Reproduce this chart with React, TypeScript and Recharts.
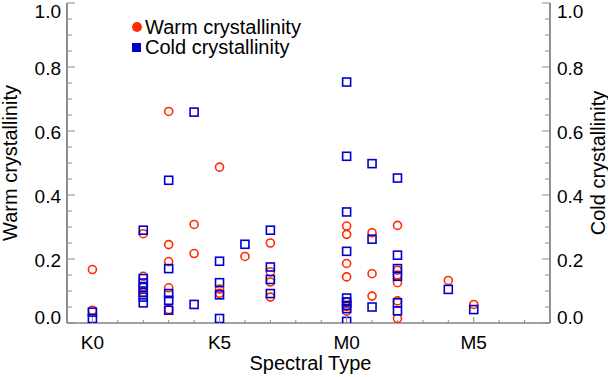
import React from "react";
import { ScatterChart, Scatter, XAxis, YAxis } from "recharts";

// spectral type index: K0 = 0, K5 = 5, M0 = 10, M5 = 15
const warmSpT = [
  0, 0,
  2, 2, 2, 2,
  3, 3, 3, 3, 3,
  4, 4,
  5, 5, 5,
  6,
  7, 7, 7, 7,
  10, 10, 10, 10, 10, 10, 10,
  11, 11, 11,
  12, 12, 12, 12, 12, 12,
  14,
  15,
];
const warmCryst = [
  0.167, 0.04,
  0.279, 0.146, 0.113, 0.097,
  0.661, 0.245, 0.192, 0.11, 0.042,
  0.308, 0.217,
  0.487, 0.106, 0.093,
  0.208,
  0.25, 0.16, 0.128, 0.081,
  0.303, 0.277, 0.186, 0.144, 0.065, 0.052, 0.037,
  0.282, 0.154, 0.084,
  0.305, 0.165, 0.15, 0.126, 0.069, 0.014,
  0.133,
  0.058,
];

const coldSpT = [
  0, 0,
  2, 2, 2, 2, 2, 2, 2,
  3, 3, 3, 3, 3,
  4, 4,
  5, 5, 5, 5,
  6,
  7, 7, 7, 7,
  10, 10, 10, 10, 10, 10, 10, 10, 10,
  11, 11, 11,
  12, 12, 12, 12, 12, 12,
  14,
  15,
];
const coldCryst = [
  0.034, 0.014,
  0.29, 0.139, 0.125, 0.111, 0.095, 0.081, 0.063,
  0.446, 0.17, 0.092, 0.071, 0.04,
  0.659, 0.058,
  0.193, 0.126, 0.088, 0.014,
  0.246,
  0.29, 0.175, 0.136, 0.092,
  0.753, 0.521, 0.347, 0.224, 0.078, 0.066, 0.055, 0.045, 0.005,
  0.498, 0.262, 0.05,
  0.453, 0.212, 0.17, 0.146, 0.063, 0.038,
  0.105,
  0.042,
];

const xTicks = [-1, 0, 1, 2, 3, 4, 5, 6, 7, 8, 9, 10, 11, 12, 13, 14, 15, 16, 17, 18];
const xTickLabels: Record<number, string> = { 0: "K0", 5: "K5", 10: "M0", 15: "M5" };
const yTicks = [
  0, 0.05, 0.1, 0.15, 0.2, 0.25, 0.3, 0.35, 0.4, 0.45, 0.5,
  0.55, 0.6, 0.65, 0.7, 0.75, 0.8, 0.85, 0.9, 0.95, 1,
];

const warmData = warmSpT.map((spt, i) => ({ spt, value: warmCryst[i] }));
const coldData = coldSpT.map((spt, i) => ({ spt, value: coldCryst[i] }));

const RED = "#ff2a00";
const BLUE = "#0000cc";
const FONT = "'Liberation Sans', Arial, Helvetica, sans-serif";
const AXIS = "#444";
const TICK = "#8a8a8a";

const isMajorY = (v: number) => Math.abs(v * 5 - Math.round(v * 5)) < 1e-6;

const OpenCircle = (props: any) => (
  <circle cx={props.cx} cy={props.cy} r={4} fill="none" stroke={RED} strokeWidth={1.6} />
);

const OpenSquare = (props: any) => (
  <rect
    x={props.cx - 4}
    y={props.cy - 4}
    width={8}
    height={8}
    fill="none"
    stroke={BLUE}
    strokeWidth={1.6}
  />
);

const BottomTick = (props: any) => {
  const { x, y, payload } = props;
  const label = xTickLabels[payload.value];
  return (
    <g>
      <line x1={x} y1={y} x2={x} y2={y - (label ? 6 : 3)} stroke={TICK} strokeWidth={1} />
      {label && (
        <text x={x} y={y + 26} textAnchor="middle" fontSize={19} fontFamily={FONT} fill="#000">
          {label}
        </text>
      )}
    </g>
  );
};

const TopTick = (props: any) => {
  const { x, y, payload } = props;
  const major = xTickLabels[payload.value] !== undefined;
  return <line x1={x} y1={y} x2={x} y2={y + (major ? 6 : 3)} stroke={TICK} strokeWidth={1} />;
};

const yLabelShift = (v: number) => (v === 1 ? 8.5 : v === 0 ? -6 : 1);

const LeftTick = (props: any) => {
  const { x, y, payload } = props;
  const major = isMajorY(payload.value);
  return (
    <g>
      <line x1={x} y1={y} x2={x + (major ? 8 : 5)} y2={y} stroke={TICK} strokeWidth={1} />
      {major && (
        <text
          x={x - 6}
          y={y + yLabelShift(payload.value)}
          textAnchor="end"
          dominantBaseline="central"
          fontSize={19}
          fontFamily={FONT}
          fill="#000"
        >
          {payload.value.toFixed(1)}
        </text>
      )}
    </g>
  );
};

const RightTick = (props: any) => {
  const { x, y, payload } = props;
  const major = isMajorY(payload.value);
  return (
    <g>
      <line x1={x} y1={y} x2={x - (major ? 8 : 5)} y2={y} stroke={TICK} strokeWidth={1} />
      {major && (
        <text
          x={x + 7}
          y={y + yLabelShift(payload.value)}
          textAnchor="start"
          dominantBaseline="central"
          fontSize={19}
          fontFamily={FONT}
          fill="#000"
        >
          {payload.value.toFixed(1)}
        </text>
      )}
    </g>
  );
};

const XTitle = (props: any) => {
  const vb = props.viewBox;
  return (
    <text x={vb.x + vb.width / 2 + 2} y={370} textAnchor="middle" fontSize={20} fontFamily={FONT} fill="#000">
      Spectral Type
    </text>
  );
};

const LeftTitle = (props: any) => {
  const vb = props.viewBox;
  const cy = vb.y + vb.height / 2;
  return (
    <text
      transform={`translate(16.5, ${cy}) rotate(-90)`}
      textAnchor="middle"
      fontSize={20}
      fontFamily={FONT}
      fill="#000"
    >
      Warm crystallinity
    </text>
  );
};

const RightTitle = (props: any) => {
  const vb = props.viewBox;
  const cy = vb.y + vb.height / 2;
  return (
    <text
      transform={`translate(605, ${cy}) rotate(-90)`}
      textAnchor="middle"
      fontSize={20}
      fontFamily={FONT}
      fill="#000"
    >
      Cold crystallinity
    </text>
  );
};

export default function App() {
  return (
    <div style={{ position: "absolute", left: 0, top: 0, width: 608, height: 377, background: "#fff" }}>
      <ScatterChart width={608} height={377} margin={{ top: 3, right: 8, bottom: 14, left: 7 }}>
        <XAxis
          xAxisId="bottom"
          dataKey="spt"
          type="number"
          domain={[-1, 18]}
          ticks={xTicks}
          interval={0}
          height={40}
          tickSize={0}
          tickMargin={0}
          tickLine={false}
          axisLine={{ stroke: AXIS, strokeWidth: 1.2 }}
          tick={<BottomTick />}
          label={<XTitle />}
          allowDataOverflow
        />
        <XAxis
          xAxisId="top"
          orientation="top"
          type="number"
          domain={[-1, 18]}
          ticks={xTicks}
          interval={0}
          height={0}
          tickSize={0}
          tickMargin={0}
          tickLine={false}
          axisLine={{ stroke: AXIS, strokeWidth: 1.2 }}
          tick={<TopTick />}
          allowDataOverflow
        />
        <YAxis
          yAxisId="left"
          dataKey="value"
          type="number"
          domain={[0, 1]}
          ticks={yTicks}
          interval={0}
          width={60}
          tickSize={0}
          tickMargin={0}
          tickLine={false}
          axisLine={{ stroke: AXIS, strokeWidth: 1.2 }}
          tick={<LeftTick />}
          label={<LeftTitle />}
          allowDataOverflow
        />
        <YAxis
          yAxisId="right"
          orientation="right"
          type="number"
          domain={[0, 1]}
          ticks={yTicks}
          interval={0}
          width={50}
          tickSize={0}
          tickMargin={0}
          tickLine={false}
          axisLine={{ stroke: AXIS, strokeWidth: 1.2 }}
          tick={<RightTick />}
          label={<RightTitle />}
          allowDataOverflow
        />
        <Scatter
          name="Warm crystallinity"
          data={warmData}
          xAxisId="bottom"
          yAxisId="left"
          shape={<OpenCircle />}
          isAnimationActive={false}
        />
        <Scatter
          name="Cold crystallinity"
          data={coldData}
          xAxisId="bottom"
          yAxisId="left"
          shape={<OpenSquare />}
          isAnimationActive={false}
        />
      </ScatterChart>
      <div
        style={{
          position: "absolute",
          left: 132,
          top: 17,
          fontFamily: FONT,
          fontSize: 20,
          lineHeight: "20px",
          color: "#000",
        }}
      >
        <div style={{ display: "flex", alignItems: "center", height: 20 }}>
          <span
            style={{ width: 10, height: 10, borderRadius: 5, background: RED, marginRight: 3, display: "inline-block" }}
          />
          Warm crystallinity
        </div>
        <div style={{ display: "flex", alignItems: "center", height: 20 }}>
          <span style={{ width: 9, height: 9, background: BLUE, marginRight: 4, display: "inline-block" }} />
          Cold crystallinity
        </div>
      </div>
    </div>
  );
}
